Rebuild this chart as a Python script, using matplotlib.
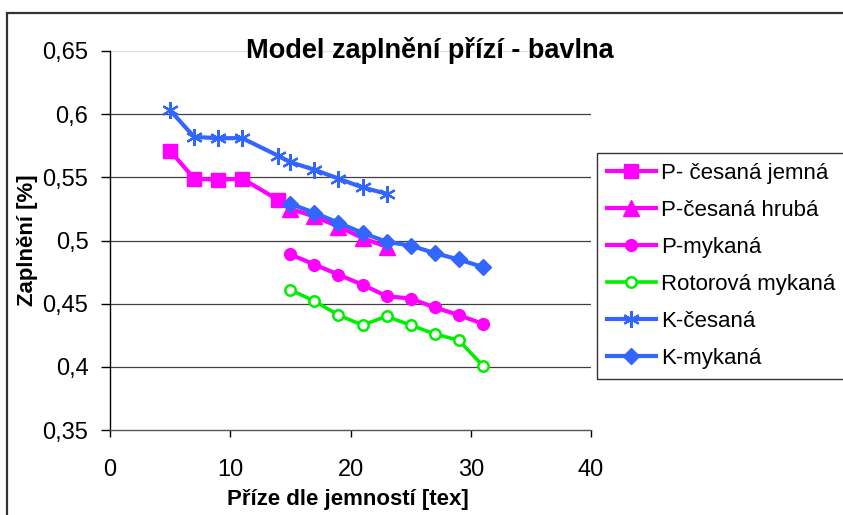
import matplotlib
matplotlib.use("Agg")
import matplotlib.pyplot as plt
from matplotlib.patches import Rectangle
from matplotlib.ticker import FuncFormatter

plt.rcParams['font.family'] = ['Liberation Sans', 'DejaVu Sans']

# Yarn fineness [tex] and packing density for each yarn type
x_cesana_jemna = [5, 7, 9, 11, 14]
y_cesana_jemna = [0.571, 0.549, 0.548, 0.549, 0.532]

x_cesana_hruba = [15, 17, 19, 21, 23]
y_cesana_hruba = [0.525, 0.519, 0.511, 0.502, 0.495]

x_mykana = [15, 17, 19, 21, 23, 25, 27, 29, 31]
y_p_mykana = [0.489, 0.481, 0.473, 0.465, 0.456, 0.454, 0.447, 0.441, 0.434]
y_rotorova = [0.461, 0.452, 0.441, 0.433, 0.440, 0.433, 0.426, 0.421, 0.401]

x_k_cesana = [5, 7, 9, 11, 14, 15, 17, 19, 21, 23]
y_k_cesana = [0.603, 0.582, 0.581, 0.581, 0.567, 0.562, 0.556, 0.549, 0.542, 0.537]

y_k_mykana = [0.529, 0.522, 0.514, 0.506, 0.499, 0.496, 0.490, 0.485, 0.479]

labels = ["P- česaná jemná", "P-česaná hrubá", "P-mykaná",
          "Rotorová mykaná", "K-česaná", "K-mykaná"]

MAGENTA = "#FF00FF"
GREEN = "#00EE00"
BLUE = "#3366FF"

W, H = 843, 515
fig = plt.figure(figsize=(W / 100, H / 100), dpi=100)
ax = fig.add_axes([110 / W, 1 - 430 / H, 481 / W, 379 / H])

lw = 3.0
ax.plot(x_cesana_jemna, y_cesana_jemna, color=MAGENTA, lw=lw, marker='s', ms=9.5,
        label=labels[0])
ax.plot(x_cesana_hruba, y_cesana_hruba, color=MAGENTA, lw=lw, marker='^', ms=12,
        label=labels[1])
ax.plot(x_mykana, y_p_mykana, color=MAGENTA, lw=lw, marker='o', ms=8.5,
        label=labels[2])
ax.plot(x_mykana, y_rotorova, color=GREEN, lw=2.6, marker='o', ms=7.5,
        mfc='white', mec=GREEN, mew=1.8, label=labels[3])
ax.plot(x_k_cesana, y_k_cesana, color=BLUE, lw=lw, marker=(6, 2, 0), ms=12,
        mew=1.6, label=labels[4])
ax.plot(x_mykana, y_k_mykana, color=BLUE, lw=lw, marker='D', ms=8,
        label=labels[5])

ax.set_xlim(0, 40)
ax.set_ylim(0.35, 0.65)
ax.set_xticks([0, 10, 20, 30, 40])
ax.set_yticks([0.35, 0.4, 0.45, 0.5, 0.55, 0.6, 0.65])
ax.yaxis.set_major_formatter(FuncFormatter(lambda v, p: f"{v:g}".replace('.', ',')))

for yv in [0.4, 0.45, 0.5, 0.55, 0.6]:
    ax.axhline(yv, color='#404040', lw=0.9, zorder=0)
ax.axhline(0.65, color='#e0e0e0', lw=0.9, zorder=0)

for side in ['top', 'right']:
    ax.spines[side].set_visible(False)
ax.spines['left'].set_linewidth(1.0)
ax.spines['bottom'].set_linewidth(1.0)
ax.spines['bottom'].set_color('#555555')

ax.tick_params(axis='y', length=6.5, width=1, pad=9, labelsize=17)
ax.tick_params(axis='x', length=5, width=1, pad=16, labelsize=17)

fig.text(430 / W, 1 - 50 / H, "Model zaplnění přízí - bavlna", ha='center', va='center',
         fontsize=19.5, fontweight='bold')
fig.text(348 / W, 1 - 500 / H, "Příze dle jemností [tex]", ha='center', va='center',
         fontsize=16, fontweight='bold')
fig.text(28 / W, 1 - 240 / H, "Zaplnění [%]", ha='center', va='center',
         rotation=90, fontsize=16, fontweight='bold')

leg = fig.legend(loc='upper left', bbox_to_anchor=(597 / W, 1 - 153 / H),
                 borderaxespad=0, fontsize=16, frameon=True, fancybox=False,
                 edgecolor='black', handlelength=2.2, handletextpad=0.25,
                 labelspacing=0.72, borderpad=0.45, numpoints=1)
leg.get_frame().set_linewidth(1.0)

# outer chart frame, running off the right and bottom edges
fig.patches.append(Rectangle((6.5 / W, -0.2), 1.2, 1 - 13 / H + 0.2,
                             transform=fig.transFigure, fill=False,
                             edgecolor='#333333', lw=1.6))

fig.savefig("out.png", dpi=100)
